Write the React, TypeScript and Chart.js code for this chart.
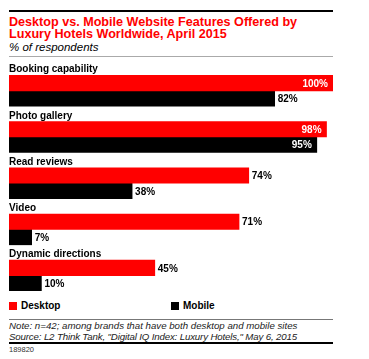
import React, { useEffect, useRef } from "react";
import { Chart, registerables } from "chart.js";

Chart.register(...registerables);

const categories = ["Booking capability", "Photo gallery", "Read reviews", "Video", "Dynamic directions"];
const desktopValues = [100, 98, 74, 71, 45];
const mobileValues = [82, 95, 38, 7, 10];
const seriesNames = ["Desktop", "Mobile"];
const titleLines = ["Desktop vs. Mobile Website Features Offered by", "Luxury Hotels Worldwide, April 2015"];
const subtitle = "% of respondents";
const noteLines = [
  "Note: n=42; among brands that have both desktop and mobile sites",
  "Source: L2 Think Tank, \"Digital IQ Index: Luxury Hotels,\" May 6, 2015",
];
const chartId = "189820";

const RED = "#ff0000";
const BLACK = "#000000";
const FONT = "'Liberation Sans', Arial, sans-serif";

const labelPlugin = {
  id: "labels",
  afterDatasetsDraw(chart: any) {
    const ctx = chart.ctx;
    const area = chart.chartArea;
    ctx.save();
    const redMeta = chart.getDatasetMeta(1);
    ctx.font = `bold 10px ${FONT}`;
    ctx.fillStyle = "#000";
    ctx.textAlign = "left";
    ctx.textBaseline = "alphabetic";
    categories.forEach((c, i) => {
      const el = redMeta.data[i];
      const top = el.y - el.height / 2;
      ctx.fillText(c, area.left, top - 3);
    });
    [1, 2].forEach((di) => {
      const meta = chart.getDatasetMeta(di);
      const vals = chart.data.datasets[di].data;
      meta.data.forEach((el: any, i: number) => {
        const v = vals[i];
        const txt = `${v}%`;
        ctx.textBaseline = "middle";
        if (v >= 90) {
          ctx.fillStyle = "#fff";
          ctx.textAlign = "right";
          ctx.fillText(txt, el.x - 5, el.y + 1);
        } else {
          ctx.fillStyle = "#000";
          ctx.textAlign = "left";
          ctx.fillText(txt, el.x + 3, el.y + 1);
        }
      });
    });
    ctx.restore();
  },
};

export default function App() {
  const ref = useRef<HTMLCanvasElement>(null);
  useEffect(() => {
    const chart = new Chart(ref.current!, {
      type: "bar",
      data: {
        labels: categories,
        datasets: [
          { label: "", data: categories.map(() => 0), backgroundColor: "rgba(0,0,0,0)" },
          { label: seriesNames[0], data: desktopValues, backgroundColor: RED },
          { label: seriesNames[1], data: mobileValues, backgroundColor: BLACK },
        ],
      },
      options: {
        indexAxis: "y",
        animation: false,
        responsive: false,
        maintainAspectRatio: false,
        layout: { padding: 0 },
        datasets: { bar: { categoryPercentage: 1, barPercentage: 1, borderWidth: 0 } },
        scales: {
          x: { display: false, min: 0, max: 100 },
          y: { display: false },
        },
        plugins: { legend: { display: false }, tooltip: { enabled: false } },
      },
      plugins: [labelPlugin],
    } as any);
    return () => chart.destroy();
  }, []);

  const abs = (s: any) => ({ position: "absolute" as const, ...s });

  return (
    <div style={{ position: "absolute", left: 0, top: 0, width: 369, height: 359, background: "#fff", fontFamily: FONT }}>
      <div style={abs({ left: 9, top: 10, width: 324, height: 2, background: "#000" })} />
      <div style={abs({ left: 9, top: 16, color: RED, fontWeight: "bold", fontSize: 12.6, lineHeight: "12px", whiteSpace: "nowrap" })}>
        {titleLines.map((t) => (
          <div key={t}>{t}</div>
        ))}
      </div>
      <div style={abs({ left: 9, top: 41, fontStyle: "italic", fontSize: 11.5, lineHeight: "12px", color: "#000" })}>{subtitle}</div>
      <div style={abs({ left: 9, top: 56, width: 324, height: 1, background: "#aaa" })} />
      <canvas ref={ref} width={324} height={231} style={abs({ left: 9, top: 60, width: 324, height: 231 })} />
      <div style={abs({ left: 9, top: 302, width: 8, height: 8, background: RED })} />
      <div style={abs({ left: 21, top: 300, fontSize: 10, fontWeight: "bold", lineHeight: "12px" })}>{seriesNames[0]}</div>
      <div style={abs({ left: 171, top: 302, width: 8, height: 8, background: BLACK })} />
      <div style={abs({ left: 183, top: 300, fontSize: 10, fontWeight: "bold", lineHeight: "12px" })}>{seriesNames[1]}</div>
      <div style={abs({ left: 9, top: 319, width: 324, height: 1, background: "#777" })} />
      <div style={abs({ left: 9, top: 321, fontStyle: "italic", fontSize: 9.7, lineHeight: "10.5px", whiteSpace: "nowrap", color: "#222" })}>
        <div>{noteLines[0]}</div>
        <div style={{ letterSpacing: "-0.15px" }}>{noteLines[1]}</div>
      </div>
      <div style={abs({ left: 9, top: 342, width: 324, height: 2, background: "#000" })} />
      <div style={abs({ left: 9, top: 346, fontSize: 7.5, lineHeight: "8px", color: "#333" })}>{chartId}</div>
    </div>
  );
}
